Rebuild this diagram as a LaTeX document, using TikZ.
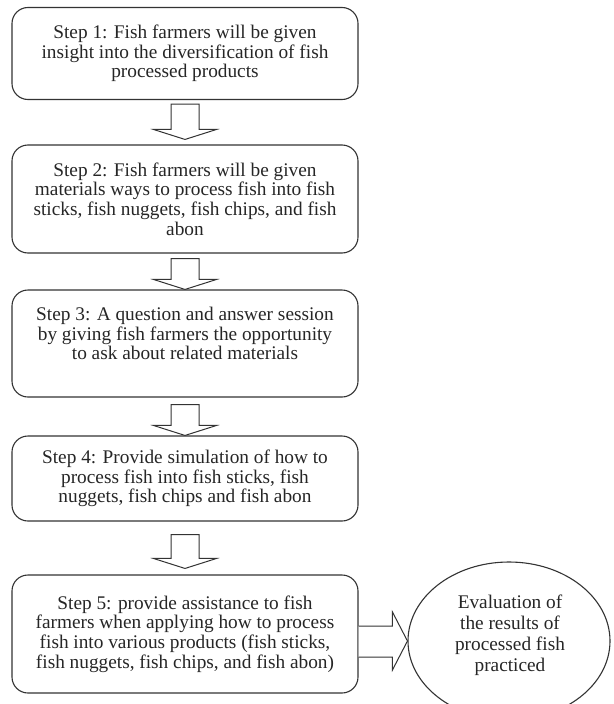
\documentclass[tikz,border=0pt]{standalone}
\usepackage{fontspec}
\setmainfont{Liberation Serif}
\usetikzlibrary{calc,shapes.geometric}
\newcommand\vblockarrow[2]{%
  \draw[blockarrow] let \p1=(#1), \p2=(#2) in
    (\x1-14pt,\y1) -- (\x1+14pt,\y1) -- (\x1+14pt,\y2+10pt) -- (\x1+31.5pt,\y2+10pt)
    -- (\x1,\y2) -- (\x1-31.5pt,\y2+10pt) -- (\x1-14pt,\y2+10pt) -- cycle;}
\begin{document}
\begin{tikzpicture}[x=1pt,y=-1pt,
  txt/.style={font=\fontsize{19.3}{19.6}\selectfont, text=black!85, align=center, inner sep=0pt},
  stepbox/.style={txt, draw=black!80, line width=1.1pt, rounded corners=16pt, minimum width=346pt},
  evalshape/.style={draw=black!80, line width=1.1pt, ellipse, minimum width=202pt, minimum height=158pt, inner sep=0pt},
  blockarrow/.style={draw=black!80, line width=1pt, fill=white, line join=miter}]
\useasboundingbox (0,0) rectangle (613,704);
\clip (0,0) rectangle (613,704);
\fill[white] (0,0) rectangle (613,704);

\node[stepbox, minimum height=92pt] (b1) at (185,53.5)
  {Step 1: Fish farmers will be given\\insight into the diversification of fish\\processed products};
\node[stepbox, minimum height=108pt] (b2) at (185,199)
  {Step 2: Fish farmers will be given\\materials ways to process fish into fish\\sticks, fish nuggets, fish chips, and fish\\abon};
\node[stepbox, minimum height=107pt] (b3) at (185,343.5)
  {Step 3: A question and answer session\\by giving fish farmers the opportunity\\to ask about related materials\\\mbox{}};
\node[stepbox, minimum height=85pt] (b4) at (185,478.5)
  {Step 4: Provide simulation of how to\\process fish into fish sticks, fish\\nuggets, fish chips and fish abon};
\node[stepbox, minimum height=118pt] (b5) at (185,634)
  {Step 5: provide assistance to fish\\farmers when applying how to process\\fish into various products (fish sticks,\\fish nuggets, fish chips, and fish abon)};
\node[evalshape] (ev) at (509,641) {};
\node[txt, font=\fontsize{19.3}{21}\selectfont] (evtext) at (510,635)
  {Evaluation of\\the results of\\processed fish\\practiced};

\coordinate (a1s) at ($(b1.south)+(0,4)$);
\coordinate (a1e) at ($(b2.north)+(0,-5)$);
\coordinate (a2s) at ($(b2.south)+(0,5)$);
\coordinate (a2e) at (b3.north);
\coordinate (a3s) at ($(b3.south)+(0,7)$);
\coordinate (a3e) at (b4.north);
\coordinate (a4s) at ($(b4.south)+(0,13)$);
\coordinate (a4e) at ($(b5.north)+(0,-6)$);
\vblockarrow{a1s}{a1e}
\vblockarrow{a2s}{a2e}
\vblockarrow{a3s}{a3e}
\vblockarrow{a4s}{a4e}

\draw[blockarrow] let \p1=(b5.east), \p2=(ev.west) in
  (\x1,\y2+15pt) -- (\x2-15pt,\y2+15pt) -- (\x2-15pt,\y2+29pt) -- (\x2,\y2)
  -- (\x2-15pt,\y2-29pt) -- (\x2-15pt,\y2-16pt) -- (\x1,\y2-16pt);
\end{tikzpicture}
\end{document}
